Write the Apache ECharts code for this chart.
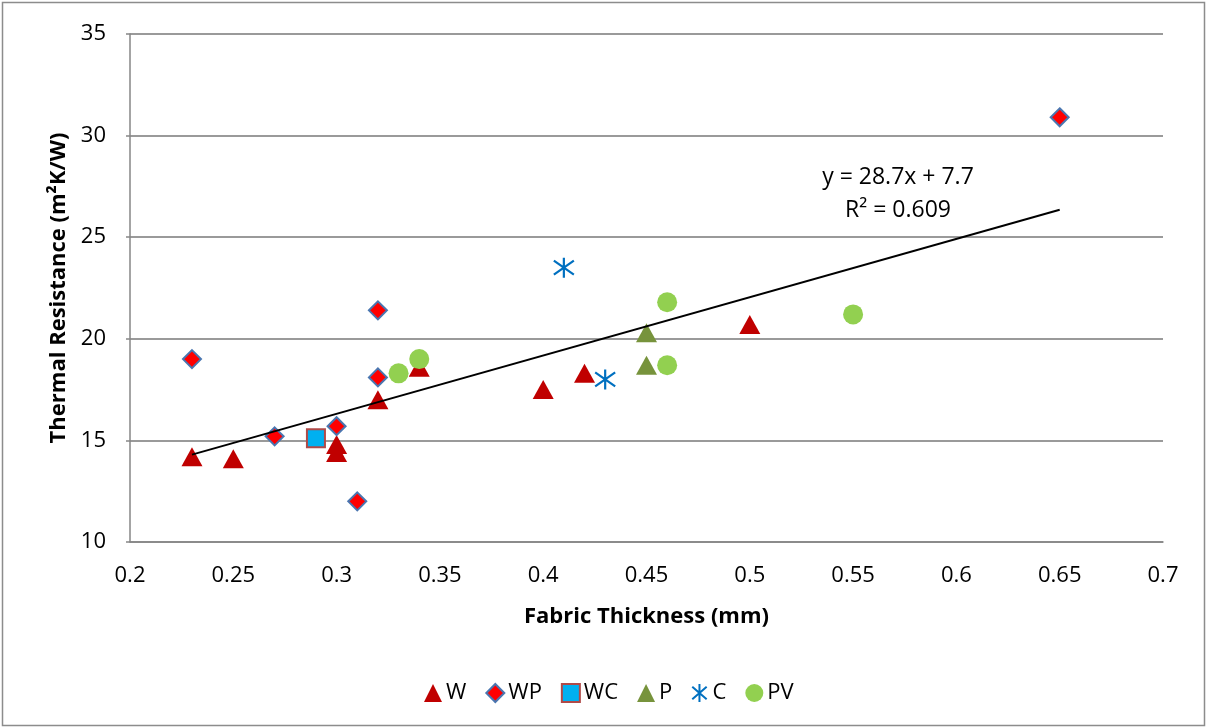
<!DOCTYPE html>
<html>
<head>
<meta charset="utf-8">
<script src="https://cdn.jsdelivr.net/npm/echarts@6/dist/echarts.min.js"></script>
<style>
  html, body { margin: 0; padding: 0; background: #fff; }
  #chart { width: 1207px; height: 728px; }
</style>
</head>
<body>
<div id="chart"></div>
<script>
// Fabric thickness (mm) vs thermal resistance, by fabric group
const wX  = [0.23, 0.25, 0.30, 0.30, 0.32, 0.34, 0.40, 0.42, 0.50];
const wY  = [14.2, 14.1, 14.8, 14.4, 17.0, 18.6, 17.5, 18.3, 20.7];
const wpX = [0.23, 0.27, 0.30, 0.31, 0.32, 0.32, 0.65];
const wpY = [19.0, 15.2, 15.7, 12.0, 18.1, 21.4, 30.9];
const wcX = [0.29];
const wcY = [15.1];
const pX  = [0.45, 0.45];
const pY  = [20.3, 18.7];
const cX  = [0.41, 0.43];
const cY  = [23.5, 18.0];
const pvX = [0.33, 0.34, 0.46, 0.46, 0.55];
const pvY = [18.3, 19.0, 21.8, 18.7, 21.2];

// Linear trend over all points, as labelled
const trendSlope = 28.7;
const trendIntercept = 7.7;
const trendR2 = 0.609;

const xTicks = [0.2, 0.25, 0.3, 0.35, 0.4, 0.45, 0.5, 0.55, 0.6, 0.65, 0.7];
const yTicks = [10, 15, 20, 25, 30, 35];

const zip = (xs, ys) => xs.map((x, i) => [x, ys[i]]);
const allX = [].concat(wX, wpX, wcX, pX, cX, pvX);
const xMin = Math.min.apply(null, allX);
const xMax = Math.max.apply(null, allX);
const trendData = [xMin, xMax].map(x => [x, trendSlope * x + trendIntercept]);

const FONT = '"Open Sans", Lato, sans-serif';
const FS = 22;
const asterisk = 'path://M10 0 L10 20 M2 3 L18 17 M2 17 L18 3';

const chart = echarts.init(document.getElementById('chart'), null, { renderer: 'canvas' });

chart.setOption({
  animation: false,
  backgroundColor: '#fff',
  textStyle: { fontFamily: FONT, color: '#000' },
  grid: { left: 130, right: 44, top: 34, bottom: 186, containLabel: false },
  xAxis: {
    type: 'value',
    min: xTicks[0], max: xTicks[xTicks.length - 1], interval: 0.05,
    name: 'Fabric Thickness (mm)',
    nameLocation: 'middle', nameGap: 64,
    nameTextStyle: { fontFamily: FONT, fontSize: FS, fontWeight: 'bold', color: '#000' },
    axisLine: { show: true, onZero: false, lineStyle: { color: '#868686', width: 1.5 } },
    axisTick: { show: false },
    splitLine: { show: false },
    axisLabel: {
      fontFamily: FONT, fontSize: FS, color: '#000', margin: 23,
      formatter: v => String(+v.toFixed(2))
    }
  },
  yAxis: {
    type: 'value',
    min: yTicks[0], max: yTicks[yTicks.length - 1], interval: 5,
    name: 'Thermal Resistance (m²K/W)',
    nameLocation: 'middle', nameGap: 60, nameRotate: 90,
    nameTextStyle: { fontFamily: FONT, fontSize: FS, fontWeight: 'bold', color: '#000' },
    axisLine: { show: true, lineStyle: { color: '#868686', width: 1.5 } },
    axisTick: { show: true, length: 4, lineStyle: { color: '#868686', width: 1.5 } },
    splitLine: { show: true, lineStyle: { color: '#9a9a9a', width: 2 } },
    axisLabel: { fontFamily: FONT, fontSize: FS, color: '#000', margin: 24 }
  },
  legend: {
    left: 419, top: 677,
    itemWidth: 18, itemHeight: 18, itemGap: 19,
    textStyle: { fontFamily: FONT, fontSize: FS, color: '#000', padding: [0, 0, 0, -1] },
    data: ['W', 'WP', 'WC', 'P', 'C', 'PV']
  },
  series: [
    {
      name: 'W', type: 'scatter', data: zip(wX, wY),
      symbol: 'triangle', symbolSize: [21, 19],
      itemStyle: { color: '#c00000', opacity: 1 }, z: 2
    },
    {
      name: 'WP', type: 'scatter', data: zip(wpX, wpY),
      symbol: 'diamond', symbolSize: [18, 18],
      itemStyle: { color: '#ff0000', borderColor: '#4a76b0', borderWidth: 2, opacity: 1 }, z: 3
    },
    {
      name: 'WC', type: 'scatter', data: zip(wcX, wcY),
      symbol: 'rect', symbolSize: [18, 18],
      itemStyle: { color: '#00b0f0', borderColor: '#b04a48', borderWidth: 2, opacity: 1 }, z: 4
    },
    {
      name: 'P', type: 'scatter', data: zip(pX, pY),
      symbol: 'triangle', symbolSize: [21, 19],
      itemStyle: { color: '#77933c', opacity: 1 }, z: 5
    },
    {
      name: 'C', type: 'scatter', data: zip(cX, cY),
      symbol: asterisk, symbolSize: [20, 20],
      itemStyle: { color: 'rgba(0,0,0,0)', borderColor: '#0070c0', borderWidth: 2.2, opacity: 1 }, z: 6
    },
    {
      name: 'PV', type: 'scatter', data: zip(pvX, pvY),
      symbol: 'circle', symbolSize: 20,
      itemStyle: { color: '#92d050', opacity: 1 }, z: 7
    },
    {
      name: 'Trend', type: 'line', data: trendData,
      showSymbol: false, symbol: 'none', silent: true,
      lineStyle: { color: '#000', width: 2 }, z: 10
    }
  ],
  graphic: [
    {
      type: 'rect', silent: true, z: -1,
      shape: { x: 2.5, y: 2.5, width: 1202, height: 723 },
      style: { fill: 'none', stroke: '#8c8c8c', lineWidth: 1.5 }
    },
    {
      type: 'text', silent: true, z: 20,
      x: 898, y: 177,
      style: {
        text: 'y = ' + trendSlope + 'x + ' + trendIntercept,
        fontFamily: FONT, fontSize: 23, fill: '#000',
        align: 'center', verticalAlign: 'middle'
      }
    },
    {
      type: 'text', silent: true, z: 20,
      x: 898, y: 210,
      style: {
        text: 'R² = ' + trendR2,
        fontFamily: FONT, fontSize: 23, fill: '#000',
        align: 'center', verticalAlign: 'middle'
      }
    }
  ]
});
</script>
</body>
</html>
